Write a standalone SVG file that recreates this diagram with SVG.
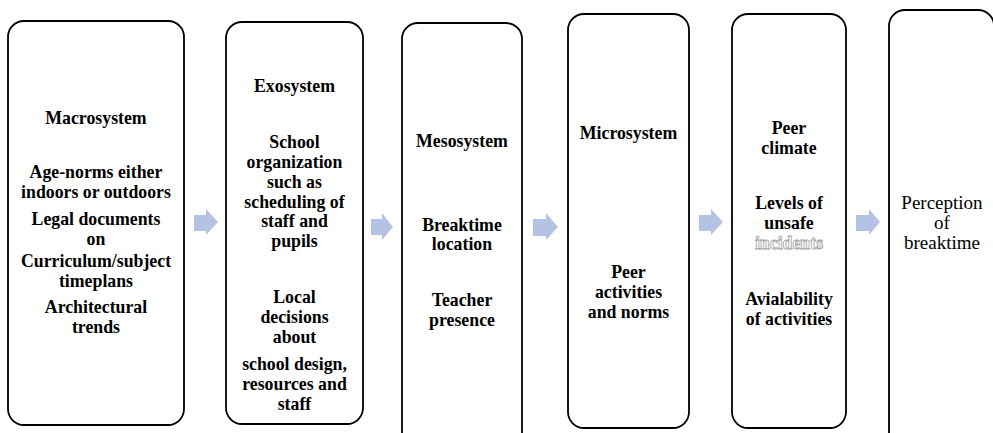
<svg xmlns="http://www.w3.org/2000/svg" width="993" height="433" viewBox="0 0 993 433">
<style>
.box{fill:#fff;stroke:#000;stroke-width:1.8}
.t{font-weight:bold;font-size:17.8px;fill:#000;text-anchor:middle}
.r{font-size:19px;fill:#000;text-anchor:middle}
.ghost{fill:#fff;stroke:#a0a0a0;stroke-width:0.8}
.arr{fill:#b4c2e3}
</style>
<rect width="993" height="433" fill="#fff"/>
<g id="macrosystem" font-family="Liberation Serif, serif">
<rect class="box" x="8" y="21" width="176" height="404" rx="16"/>
<text class="t" x="96" y="124">Macrosystem</text>
<text class="t" x="96" y="178">Age-norms either</text>
<text class="t" x="96" y="198">indoors or outdoors</text>
<text class="t" x="96" y="225">Legal documents</text>
<text class="t" x="96" y="245">on</text>
<text class="t" x="96" y="267">Curriculum/subject</text>
<text class="t" x="96" y="287">timeplans</text>
<text class="t" x="96" y="313">Architectural</text>
<text class="t" x="96" y="333">trends</text>
</g>
<g id="exosystem" font-family="Liberation Serif, serif">
<rect class="box" x="226" y="22" width="137" height="402" rx="16"/>
<text class="t" x="294.5" y="92">Exosystem</text>
<text class="t" x="294.5" y="148">School</text>
<text class="t" x="294.5" y="168">organization</text>
<text class="t" x="294.5" y="188">such as</text>
<text class="t" x="294.5" y="208">scheduling of</text>
<text class="t" x="294.5" y="227">staff and</text>
<text class="t" x="294.5" y="247">pupils</text>
<text class="t" x="294.5" y="303">Local</text>
<text class="t" x="294.5" y="323">decisions</text>
<text class="t" x="294.5" y="343">about</text>
<text class="t" x="294.5" y="370">school design,</text>
<text class="t" x="294.5" y="390">resources and</text>
<text class="t" x="294.5" y="410">staff</text>
</g>
<g id="mesosystem" font-family="Liberation Serif, serif">
<rect class="box" x="402" y="23" width="120" height="430" rx="16"/>
<text class="t" x="462" y="147">Mesosystem</text>
<text class="t" x="462" y="231">Breaktime</text>
<text class="t" x="462" y="250">location</text>
<text class="t" x="462" y="306">Teacher</text>
<text class="t" x="462" y="326">presence</text>
</g>
<g id="microsystem" font-family="Liberation Serif, serif">
<rect class="box" x="568" y="14" width="121" height="414" rx="16"/>
<text class="t" x="628.5" y="139">Microsystem</text>
<text class="t" x="628.5" y="278">Peer</text>
<text class="t" x="628.5" y="298">activities</text>
<text class="t" x="628.5" y="318">and norms</text>
</g>
<g id="peer-climate" font-family="Liberation Serif, serif">
<rect class="box" x="732" y="14" width="114" height="414" rx="16"/>
<text class="t" x="789" y="134">Peer</text>
<text class="t" x="789" y="154">climate</text>
<text class="t" x="789" y="209">Levels of</text>
<text class="t" x="789" y="229">unsafe</text>
<text class="t ghost" x="789" y="249">incidents</text>
<text class="t" x="789" y="305">Avialability</text>
<text class="t" x="789" y="325">of activities</text>
</g>
<g id="perception" font-family="Liberation Serif, serif">
<rect class="box" x="889" y="10" width="105" height="440" rx="16"/>
<text class="r" x="942" y="209">Perception</text>
<text class="r" x="942" y="229">of</text>
<text class="r" x="942" y="249">breaktime</text>
</g>
<g id="connectors">
<polygon class="arr" points="194,215 206,215 206,209 218,222 206,235 206,231 194,231"/>
<polygon class="arr" points="371,219 382,219 382,213 393,227 382,240 382,235 371,235"/>
<polygon class="arr" points="533,219 546,219 546,213 558,227 546,240 546,236 533,236"/>
<polygon class="arr" points="699,215 711,215 711,209 723,222 711,235 711,231 699,231"/>
<polygon class="arr" points="856,215 869,215 869,209 880,222 869,235 869,231 856,231"/>
</g>
</svg>
